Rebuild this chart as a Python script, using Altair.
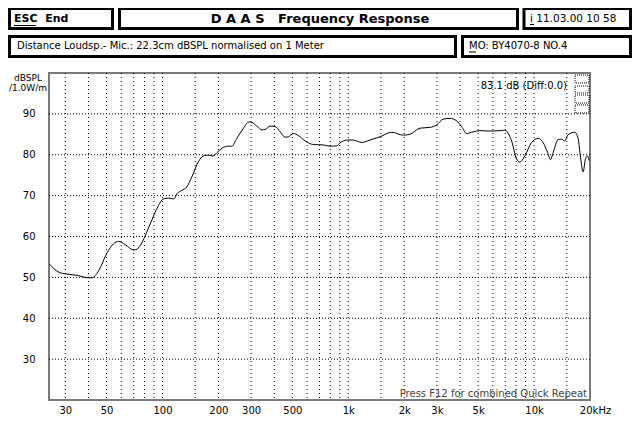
import altair as alt
import pandas as pd

# ---- data ----
freq_hz = [24.7, 27.6, 30.6, 34.7, 40, 41.8, 45.3, 50.3, 54.5, 58, 63, 69.9, 72.9, 77.5,
           85.9, 95.2, 101, 108, 115, 120, 127, 135, 144, 156, 166, 177, 187, 196, 209,
           227, 236, 251, 273, 290, 303, 322, 343, 357, 380, 404, 430, 457, 476, 506,
           539, 585, 649, 734, 798, 867, 903, 981, 1064, 1181, 1309, 1481, 1712, 1977,
           2147, 2431, 2751, 2989, 3243, 3525, 3829, 4073, 4333, 4703, 5109, 5782, 6546,
           6963, 7564, 8048, 8383, 8917, 9687, 10514, 11184, 11812, 12259, 12661, 13470,
           14046, 14631, 15240, 16563, 17256, 17778, 18361, 18915, 19390, 19776]
spl_db = [53.2, 51.3, 50.8, 50.5, 49.9, 49.9, 51.6, 56.0, 58.2, 58.8, 58.0, 56.7, 56.9, 58.5,
          63.1, 67.6, 69.2, 69.4, 69.2, 70.5, 71.3, 72.1, 74.6, 78.3, 79.7, 79.9, 79.7, 80.5, 81.6,
          82.1, 82.1, 84.0, 86.5, 88.0, 87.9, 87.0, 86.1, 86.2, 87.0, 86.9, 85.6, 84.3, 84.4, 85.2,
          84.7, 83.4, 82.5, 82.4, 82.1, 82.2, 82.9, 83.6, 83.6, 83.0, 83.6, 84.4, 85.5, 84.8,
          85.0, 86.5, 86.7, 87.3, 88.7, 88.9, 88.3, 86.9, 85.2, 85.6, 85.9, 85.8, 85.9,
          86.0, 83.4, 79.0, 78.2, 79.7, 83.0, 84.0, 83.0, 80.6, 78.8, 80.5, 83.7,
          83.8, 83.4, 84.9, 85.5, 84.0, 79.4, 75.8, 79.0, 79.7, 78.6]

grid_freqs = [30, 40, 50, 60, 70, 80, 90, 100, 150, 200, 300, 400, 500, 600, 700, 800, 900,
              1000, 1500, 2000, 3000, 4000, 5000, 6000, 7000, 8000, 9000, 10000, 15000]
grid_db = [30, 40, 50, 60, 70, 80, 90]
x_label_values = [30, 50, 100, 200, 300, 500, 1000, 2000, 3000, 5000, 10000, 20000]
y_label_values = [30, 40, 50, 60, 70, 80, 90]

NB = "\u00a0"
title_text = f"D A A S{NB}{NB} Frequency Response"
esc_text = f"ESC{NB} End"
date_text = "i 11.03.00 10 58"
info_text = "Distance Loudsp.- Mic.: 22.3cm dBSPL normalised on 1 Meter"
model_text = "MO: BY4070-8 NO.4"
level_text = "83.1 dB (Diff:0.0)"
press_text = "Press F12 for combined Quick Repeat"
ytitle_1 = "dBSPL"
ytitle_2 = "/1.0W/m"

FONT = "DejaVu Sans"
W, H = 541, 327

xs = alt.Scale(type="log", domain=[24.5, 20000], nice=False)
ys = alt.Scale(domain=[20, 100], nice=False)
one = pd.DataFrame({"a": [0]})

label_expr = ("datum.value >= 20000 ? '20kHz' : datum.value >= 1000 ? "
              "format(datum.value/1000, 'd') + 'k' : format(datum.value, 'd')")

x_axis = alt.Axis(
    values=x_label_values, labelExpr=label_expr, grid=False, ticks=False, domain=False,
    title=None, labelFont=FONT, labelFontSize=10, labelColor="black", labelPadding=5,
    labelFlush=False, labelOverlap=False,
    labelOffset={"condition": {"test": "datum.value >= 20000", "value": 5}, "value": 0})
y_axis = alt.Axis(
    values=y_label_values, grid=False, ticks=False, domain=False, title=None,
    labelFont=FONT, labelFontSize=10, labelColor="black", labelPadding=14)

vgrid = alt.Chart(pd.DataFrame({"f": grid_freqs})).mark_rule(
    color="black", strokeWidth=1, strokeDash=[1, 3]
).encode(x=alt.X("f:Q", scale=xs, axis=x_axis))

hgrid = alt.Chart(pd.DataFrame({"db": grid_db})).mark_rule(
    color="black", strokeWidth=1, strokeDash=[1, 2]
).encode(y=alt.Y("db:Q", scale=ys, axis=y_axis))

curve = alt.Chart(pd.DataFrame({"f": freq_hz, "db": spl_db})).mark_line(
    color="black", strokeWidth=1, interpolate="monotone"
).encode(
    x=alt.X("f:Q", scale=xs, axis=x_axis),
    y=alt.Y("db:Q", scale=ys, axis=y_axis),
)


def box(x1, y1, x2, y2, sw=3):
    return alt.Chart(one).mark_rect(fill="white", stroke="black", strokeWidth=sw).encode(
        x=alt.value(x1), x2=alt.value(x2), y=alt.value(y1), y2=alt.value(y2))


def txt(s, x, y, size=10, weight="normal", align="left", color="black"):
    return alt.Chart(one).mark_text(
        text=s, align=align, baseline="middle", font=FONT, fontSize=size,
        fontWeight=weight, color=color
    ).encode(x=alt.value(x), y=alt.value(y))


def uline(x1, x2, y):
    return alt.Chart(one).mark_rule(color="black", strokeWidth=1).encode(
        x=alt.value(x1), x2=alt.value(x2), y=alt.value(y))


def dotbox(x1, y1, x2, y2):
    return alt.Chart(one).mark_rect(
        fill="white", fillOpacity=0, stroke="black", strokeWidth=1, strokeDash=[1, 1]
    ).encode(x=alt.value(x1), x2=alt.value(x2), y=alt.value(y1), y2=alt.value(y2))


layers = [
    vgrid, hgrid, curve,
    # header boxes
    box(-39.5, -64.5, 63.5, -44.5),
    box(70.5, -64.5, 468.5, -44.5),
    box(475, -64.5, 581.5, -44.5),
    box(-39.5, -36.5, 406.5, -16.5),
    box(413.5, -36.5, 581.5, -16.5),
    txt(esc_text, -35, -54.5, size=11, weight="bold"),
    uline(-35, -13, -47.5),
    txt(title_text, 271, -54.5, size=13, weight="bold", align="center"),
    txt(date_text, 481, -54.5, size=10.5),
    uline(481, 485, -48.5),
    txt(info_text, -32, -27, size=10),
    txt(model_text, 420, -27, size=10),
    uline(420, 427, -21),
    # y axis title
    txt(ytitle_1, -21, 5, size=9, align="center"),
    txt(ytitle_2, -21, 14.5, size=9, align="center"),
    # in-plot annotations
    txt(level_text, 518, 13, size=10, align="right"),
    txt(press_text, 538, 321, size=10, align="right", color="#444444"),
    dotbox(526, 2, 540, 10),
    dotbox(526, 13, 540, 20),
    dotbox(526, 22, 540, 30),
    dotbox(526, 32, 540, 40),
]

chart = alt.layer(*layers).properties(
    width=W, height=H,
    autosize=alt.AutoSizeParams(type="none"),
    padding={"left": 41, "top": 65, "right": 42, "bottom": 18},
    background="white",
).configure_view(stroke="#7a7a7a", strokeWidth=2)

chart.save("out.html", embed_options={"renderer": "svg", "actions": False})
